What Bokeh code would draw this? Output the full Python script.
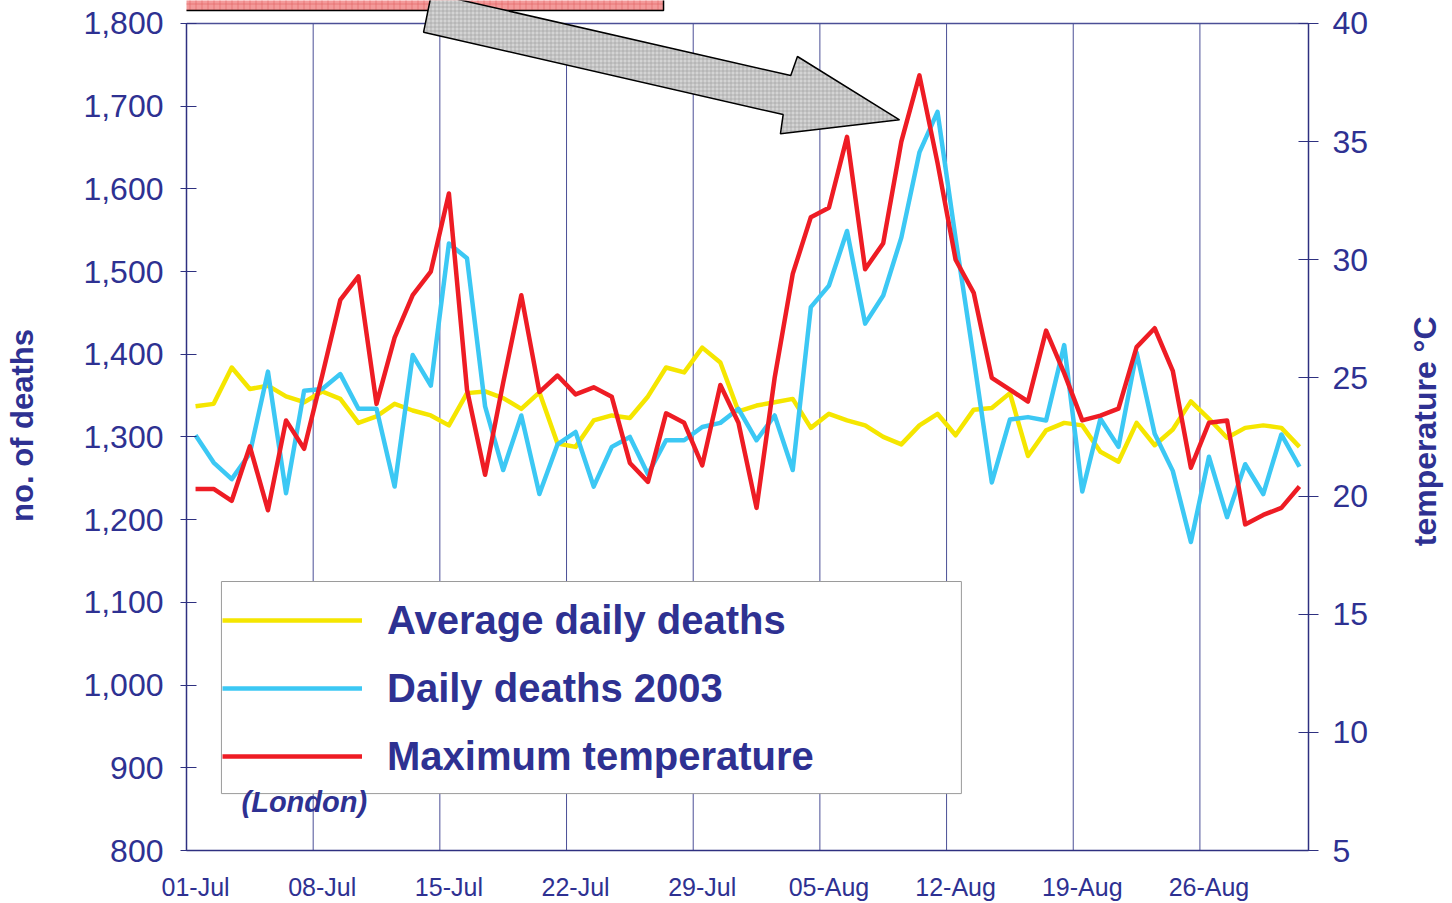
import math
import numpy as np
import pandas as pd
from bokeh.plotting import figure
from bokeh.layouts import row
from bokeh.models import (Range1d, LinearAxis, FixedTicker, NumeralTickFormatter,
                          Legend, LegendItem, Label)
from bokeh.core.properties import value
from bokeh.embed import file_html
from bokeh.resources import INLINE

# ---------------- data ----------------
dates = [d.strftime("%d-%b") for d in pd.date_range("2003-07-01", "2003-08-31")]

avg_deaths = [1337, 1340, 1384, 1358, 1362, 1349, 1342, 1355, 1346, 1317,
              1325, 1340, 1332, 1326, 1314, 1353, 1355, 1347, 1334, 1354,
              1292, 1288, 1320, 1326, 1323, 1349, 1384, 1378, 1408, 1390,
              1331, 1338, 1342, 1346, 1311, 1328, 1320, 1314, 1300, 1291,
              1314, 1328, 1302, 1333, 1335, 1353, 1277, 1308, 1317, 1314,
              1282, 1270, 1317, 1290, 1309, 1343, 1322, 1299, 1311, 1314,
              1311, 1288]

deaths_2003 = [1302, 1269, 1249, 1280, 1379, 1232, 1356, 1358, 1376, 1334,
               1334, 1240, 1399, 1362, 1534, 1516, 1337, 1260, 1326, 1231,
               1291, 1306, 1240, 1288, 1300, 1255, 1296, 1296, 1312, 1317,
               1334, 1296, 1326, 1260, 1457, 1483, 1549, 1437, 1471, 1541,
               1644, 1693, 1540, 1395, 1245, 1321, 1324, 1320, 1411, 1234,
               1322, 1288, 1402, 1304, 1259, 1173, 1276, 1203, 1267, 1231,
               1303, 1264]

max_temp = [20.3, 20.3, 19.8, 22.1, 19.4, 23.2, 22.0, 25.1, 28.3, 29.3,
            23.9, 26.7, 28.5, 29.5, 32.8, 24.5, 20.9, 24.8, 28.5, 24.4,
            25.1, 24.3, 24.6, 24.2, 21.4, 20.6, 23.5, 23.1, 21.3, 24.7,
            23.1, 19.5, 25.0, 29.4, 31.8, 32.2, 35.2, 29.6, 30.7, 35.0,
            37.8, 34.1, 30.0, 28.6, 25.0, 24.5, 24.0, 27.0, 25.2, 23.2,
            23.4, 23.7, 26.3, 27.1, 25.3, 21.2, 23.1, 23.2, 18.8, 19.2,
            19.5, 20.4]

tick_labels = ["01-Jul", "08-Jul", "15-Jul", "22-Jul", "29-Jul",
               "05-Aug", "12-Aug", "19-Aug", "26-Aug"]
death_ticks = list(range(800, 1801, 100))
temp_ticks = list(range(5, 41, 5))
series_names = ["Average daily deaths", "Daily deaths 2003", "Maximum temperature"]
temp_title = "temperature  \u00b0C"

# ---------------- geometry / style ----------------
x = list(range(len(dates)))
tick_pos = [dates.index(t) for t in tick_labels]
week_bounds = [t - 0.5 for t in tick_pos[1:]]

D_MIN, D_MAX = 800, 1800
T_MIN, T_MAX = 5, 40
Y_TOP = 1827.7        # frame extends a little above the 1800 line (for the arrow)
T_TOP = T_MIN + (T_MAX - T_MIN) * (Y_TOP - D_MIN) / (D_MAX - D_MIN)
X0, X1 = -0.5, len(dates) - 0.5

W_MAIN, W_SIDE, H = 1400, 52, 903

NAVY = "#2E3192"
AXIS = "#2E3080"
GRID = "#4B4F96"
YELLOW = "#F5E600"
BLUE = "#3CC8F4"
RED = "#EE1C24"

p = figure(width=W_MAIN, height=H, output_backend="svg", toolbar_location=None,
           x_range=Range1d(X0, X1), y_range=Range1d(D_MIN, Y_TOP),
           min_border_left=186, min_border_right=W_MAIN - 1308, min_border_top=0,
           min_border_bottom=53)
p.outline_line_color = None
p.xgrid.visible = False
p.ygrid.visible = False

# left axis
ya = p.yaxis[0]
ya.ticker = FixedTicker(ticks=death_ticks)
ya.formatter = NumeralTickFormatter(format="0,0")
ya.bounds = (D_MIN, D_MAX)
ya.axis_line_color = AXIS
ya.axis_line_width = 1.5
ya.major_tick_line_color = AXIS
ya.major_tick_in = 10
ya.major_tick_out = 6
ya.minor_tick_line_color = None
ya.major_label_text_font = "Liberation Sans"
ya.major_label_text_font_size = "32px"
ya.major_label_text_color = NAVY
ya.major_label_standoff = 17
ya.axis_label = "no. of deaths"
ya.axis_label_text_font = "Liberation Sans"
ya.axis_label_text_font_style = "bold"
ya.axis_label_text_font_size = "31px"
ya.axis_label_text_color = NAVY
ya.axis_label_standoff = 40

# right axis
p.extra_y_ranges = {"temp": Range1d(T_MIN, T_TOP)}
ra = LinearAxis(y_range_name="temp", ticker=FixedTicker(ticks=temp_ticks),
                bounds=(T_MIN, T_MAX))
ra.axis_line_color = AXIS
ra.axis_line_width = 1.5
ra.major_tick_line_color = AXIS
ra.major_tick_in = 10
ra.major_tick_out = 10
ra.minor_tick_line_color = None
ra.major_label_text_font = "Liberation Sans"
ra.major_label_text_font_size = "32px"
ra.major_label_text_color = NAVY
ra.major_label_standoff = 14
p.add_layout(ra, "right")

# x axis
xa = p.xaxis[0]
xa.ticker = FixedTicker(ticks=tick_pos)
xa.major_label_overrides = {pos: lab for pos, lab in zip(tick_pos, tick_labels)}
xa.axis_line_color = AXIS
xa.axis_line_width = 1.5
xa.major_tick_line_color = None
xa.major_tick_in = 0
xa.major_tick_out = 0
xa.minor_tick_line_color = None
xa.minor_tick_in = 0
xa.minor_tick_out = 0
xa.major_label_text_font = "Liberation Sans"
xa.major_label_text_font_size = "25px"
xa.major_label_text_color = NAVY
xa.major_label_standoff = 22

# weekly grid lines and top border line
p.segment(x0=week_bounds, y0=[D_MIN] * len(week_bounds),
          x1=week_bounds, y1=[D_MAX] * len(week_bounds),
          line_color=GRID, line_width=1)
p.segment(x0=[X0], y0=[D_MAX], x1=[X1], y1=[D_MAX], line_color=GRID, line_width=1.5)

# legend frame
LEG_L, LEG_R, LEG_B, LEG_T = 1.43, 42.32, 868.8, 1125.2
p.quad(left=[LEG_L], right=[LEG_R], bottom=[LEG_B], top=[LEG_T],
       fill_color="white", line_color="#9A9A9A", line_width=1)

# data lines
r_avg = p.line(x, avg_deaths, line_color=YELLOW, line_width=4.5, line_join="round")
r_daily = p.line(x, deaths_2003, line_color=BLUE, line_width=4.5, line_join="round")
r_temp = p.line(x, max_temp, line_color=RED, line_width=4.5, line_join="round",
                y_range_name="temp")

legend = Legend(items=[LegendItem(label=series_names[0], renderers=[r_avg]),
                       LegendItem(label=series_names[1], renderers=[r_daily]),
                       LegendItem(label=series_names[2], renderers=[r_temp])],
                location=(36, 69), padding=0, margin=0, spacing=18,
                glyph_width=140, glyph_height=50, label_height=50,
                label_standoff=25, background_fill_alpha=0, border_line_alpha=0,
                label_text_font="Liberation Sans", label_text_font_style="bold",
                label_text_font_size="40px", label_text_color=NAVY)
p.add_layout(legend)

p.add_layout(Label(x=2.54, y=859, text="(London)", text_font="Liberation Sans",
                   text_font_style="bold italic", text_font_size="29px",
                   text_color=NAVY, text_baseline="middle", text_align="left"))

# decorative box and block arrow at the top
p.quad(left=[-1.66], right=[25.86], bottom=[1815.6], top=[1900],
       fill_color="#F39A9A", line_color="black", line_width=1.5,
       hatch_pattern="+", hatch_color="#E06060", hatch_scale=6, hatch_weight=0.6)

ARROW_X = [12.60, 13.04, 32.89, 33.26, 38.90, 32.32, 32.47]
ARROW_Y = [1789.4, 1836.3, 1737.0, 1760.0, 1683.4, 1666.5, 1689.8]
p.patch(ARROW_X, ARROW_Y, fill_color="#D4D4D4", line_color="black", line_width=1.5,
        hatch_pattern="+", hatch_color="#9A9A9A", hatch_scale=4, hatch_weight=0.6)

# side strip carrying the right-hand axis title (reads bottom-to-top)
side = figure(width=W_SIDE, height=H, output_backend="svg", toolbar_location=None,
              x_range=Range1d(0, W_SIDE), y_range=Range1d(0, H),
              min_border=0)
side.axis.visible = False
side.grid.visible = False
side.outline_line_color = None
side.text(x=[24], y=[H - 453], text=[temp_title], angle=math.pi / 2,
          text_align="center", text_baseline="middle",
          text_font=value("Liberation Sans"), text_font_style="bold",
          text_font_size="32px", text_color=NAVY)

layout = row(p, side, spacing=0)
open("out.html", "w").write(file_html(layout, INLINE))
